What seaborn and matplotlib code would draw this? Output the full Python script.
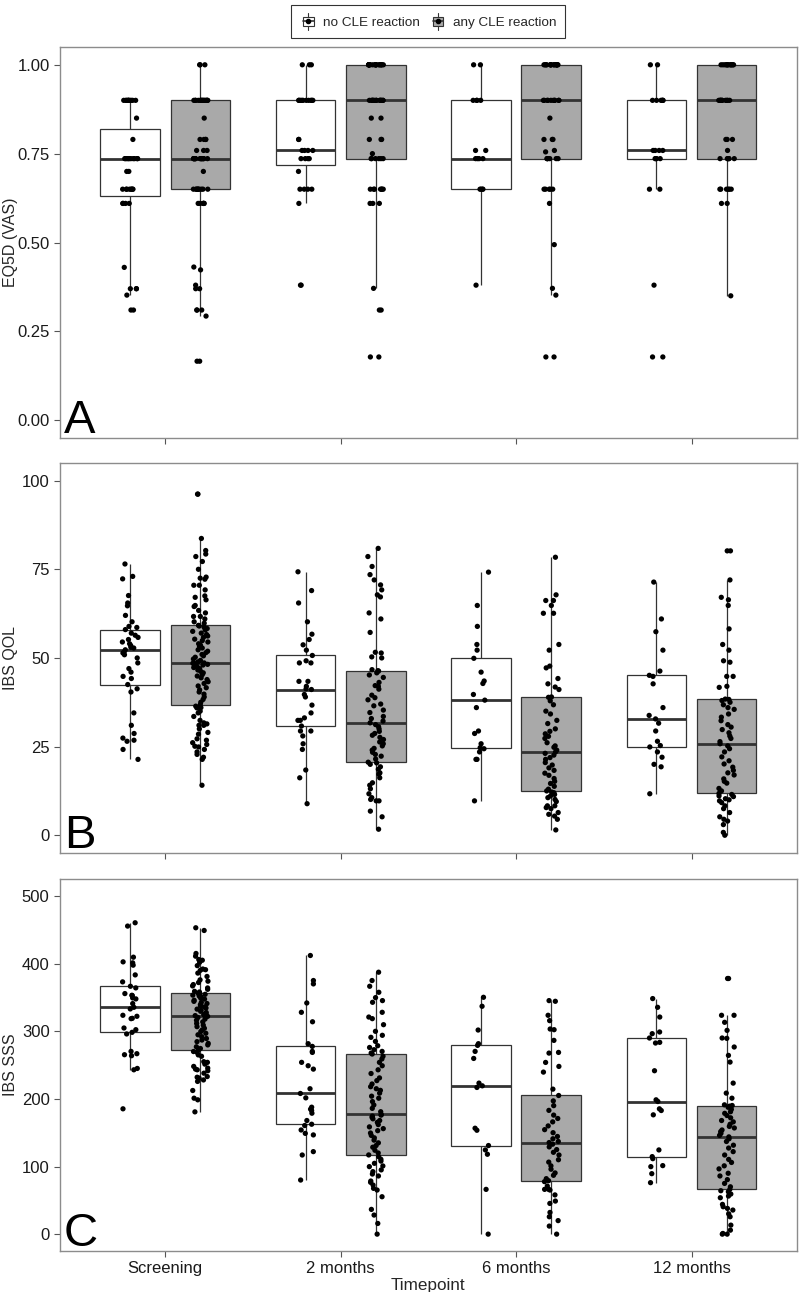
import numpy as np
import pandas as pd
import seaborn as sns
import matplotlib.pyplot as plt
from matplotlib.patches import Rectangle, Patch
from matplotlib.lines import Line2D
from matplotlib.legend_handler import HandlerBase

np.random.seed(3)

timepoints = ['Screening', '2 months', '6 months', '12 months']
groups = ['no CLE reaction', 'any CLE reaction']

# ---- EQ5D (VAS) values ----
eq5d_scr_no = [0.31, 0.31, 0.352, 0.37, 0.37, 0.37, 0.43, 0.61, 0.61, 0.61, 0.61,
               0.65, 0.65, 0.65, 0.65, 0.65, 0.65, 0.65, 0.65, 0.70, 0.70,
               0.736, 0.736, 0.736, 0.736, 0.736, 0.736, 0.736, 0.736, 0.736, 0.736,
               0.79, 0.85, 0.90, 0.90, 0.90, 0.90, 0.90, 0.90, 0.90, 0.90, 0.90, 0.90]
eq5d_scr_any = [0.166, 0.166, 0.293, 0.31, 0.31, 0.31, 0.37, 0.37, 0.38, 0.423, 0.431,
                0.61, 0.61, 0.61, 0.61, 0.61, 0.61,
                0.65, 0.65, 0.65, 0.65, 0.65, 0.65, 0.65, 0.65, 0.65, 0.65, 0.70,
                0.736, 0.736, 0.736, 0.736, 0.736, 0.736, 0.736, 0.736, 0.736, 0.736,
                0.736, 0.736, 0.736, 0.736, 0.736, 0.759, 0.759, 0.759,
                0.79, 0.79, 0.79, 0.79, 0.85,
                0.90, 0.90, 0.90, 0.90, 0.90, 0.90, 0.90, 0.90, 0.90, 0.90, 0.90, 0.90,
                0.90, 0.90, 0.90, 1.00, 1.00, 1.00]
eq5d_2m_no = [0.38, 0.38, 0.61, 0.65, 0.65, 0.65, 0.65, 0.70, 0.736, 0.736, 0.736, 0.736,
              0.759, 0.759, 0.759, 0.759, 0.79, 0.79,
              0.90, 0.90, 0.90, 0.90, 0.90, 0.90, 0.90, 0.90, 0.90, 0.90, 1.00, 1.00, 1.00]
eq5d_2m_any = [0.178, 0.178, 0.31, 0.31, 0.371, 0.61, 0.61, 0.61,
               0.65, 0.65, 0.65, 0.65, 0.65, 0.65, 0.65,
               0.736, 0.736, 0.736, 0.736, 0.736, 0.736, 0.75, 0.79, 0.79, 0.79, 0.85, 0.85,
               0.90, 0.90, 0.90, 0.90, 0.90, 0.90, 0.90, 0.90, 0.90, 0.90, 0.90, 0.90, 0.90, 0.90,
               1.00, 1.00, 1.00, 1.00, 1.00, 1.00, 1.00, 1.00, 1.00, 1.00,
               1.00, 1.00, 1.00, 1.00, 1.00, 1.00, 1.00, 1.00, 1.00, 1.00]
eq5d_6m_no = [0.38, 0.65, 0.65, 0.65, 0.65, 0.736, 0.736, 0.736, 0.736, 0.759, 0.759,
              0.90, 0.90, 0.90, 0.90, 1.00, 1.00]
eq5d_6m_any = [0.178, 0.178, 0.352, 0.371, 0.494, 0.61, 0.65, 0.65, 0.65, 0.65, 0.65,
               0.736, 0.736, 0.736, 0.736, 0.736, 0.736, 0.755, 0.759, 0.79, 0.79, 0.79, 0.85,
               0.90, 0.90, 0.90, 0.90, 0.90, 0.90, 0.90, 0.90, 0.90, 0.90,
               1.00, 1.00, 1.00, 1.00, 1.00, 1.00, 1.00, 1.00,
               1.00, 1.00, 1.00, 1.00, 1.00, 1.00, 1.00, 1.00]
eq5d_12m_no = [0.178, 0.178, 0.38, 0.65, 0.65, 0.736, 0.736, 0.736, 0.736,
               0.759, 0.759, 0.759, 0.759, 0.90, 0.90, 0.90, 0.90, 0.90, 0.90, 1.00, 1.00]
eq5d_12m_any = [0.35, 0.61, 0.61, 0.65, 0.65, 0.65, 0.65, 0.65, 0.65,
                0.736, 0.736, 0.736, 0.736, 0.736, 0.736, 0.759, 0.79, 0.79, 0.79,
                0.90, 0.90, 0.90, 0.90, 0.90, 0.90, 0.90, 0.90, 0.90, 0.90,
                1.00, 1.00, 1.00, 1.00, 1.00, 1.00, 1.00, 1.00, 1.00, 1.00, 1.00, 1.00]

# ---- IBS QOL values ----
qol_scr_no = [21.4, 24.2, 26.5, 26.8, 27.4, 28.7, 31.0, 34.5, 40.4, 41.3, 42.5,
              44.2, 44.8, 46.0, 47.0, 48.6, 50.0, 50.9, 51.4, 51.7, 52.3,
              52.8, 53.0, 53.5, 54.0, 54.5, 55.2, 55.8, 56.4, 57.0, 58.0,
              58.6, 58.9, 60.2, 62.0, 64.7, 65.5, 67.6, 72.3, 73.0, 76.5]
qol_scr_any = [14.1, 21.4, 22.0, 22.8, 23.5, 24.2, 24.9, 25.1, 25.6, 26.1, 26.8, 27.2, 28.5,
               29.0, 30.0, 31.0, 31.0, 31.4, 31.7, 32.4, 33.5, 34.5, 35.0, 35.9, 36.0, 36.4,
               36.8,
               37.5, 38.3, 39.0, 39.8, 40.4, 41.0, 41.6, 42.1, 42.8, 43.3, 43.9, 44.4, 44.9,
               45.3, 45.8, 46.2, 46.6, 47.0, 47.3, 47.6, 47.9, 48.0, 48.2, 48.4, 48.5,
               48.6,
               48.9, 49.3, 49.7, 50.2, 50.6, 51.0, 51.5, 51.9, 52.3, 52.8, 53.2, 53.6, 54.0,
               54.5, 54.9, 55.3, 55.8, 56.2, 56.6, 57.0, 57.5, 57.9, 58.3, 58.7, 59.0,
               59.2,
               59.8, 60.2, 61.0, 61.7, 61.7, 62.7, 63.4, 64.5, 64.8, 66.4, 67.1, 67.5, 69.2,
               70.5, 70.5, 72.2, 72.5, 72.8, 75.0, 77.2, 78.6, 79.3, 80.3, 83.7, 96.2, 96.2]
qol_2m_no = [8.9, 16.2, 18.4, 24.2, 25.8, 28.0, 29.4, 29.4, 30.8,
             32.4, 32.4, 33.1, 34.5, 36.7, 39.0, 39.7, 41.1,
             41.3, 42.0, 43.4, 43.4, 48.6, 48.6, 49.2, 50.7,
             52.2, 53.7, 55.2, 56.7, 60.2, 65.5, 69.0, 74.3]
qol_2m_any = [1.7, 5.2, 6.8, 9.7, 9.7, 10.1, 10.6, 11.7, 13.1, 14.1, 14.8, 16.2, 17.2, 17.6,
              18.6, 19.3, 20.0, 20.4, 20.6,
              21.5, 22.3, 22.8, 23.4, 24.0, 24.5, 25.2, 25.8, 26.3, 27.0, 27.6, 28.2, 28.7,
              29.3, 30.0, 30.6, 31.2, 31.7,
              32.2, 32.9, 33.5, 34.6, 35.3, 36.5, 37.0, 38.2, 38.8, 39.5, 41.2, 42.0, 42.2,
              43.1, 44.5, 45.2, 45.8, 46.3,
              46.4, 46.7, 50.0, 50.3, 51.4, 51.6, 57.2, 61.0, 62.7, 67.2, 67.8, 69.2, 70.6,
              72.0, 73.5, 75.8, 78.6, 80.9]
qol_6m_no = [9.7, 21.4, 21.4, 23.5, 24.4, 24.7, 25.8, 28.7, 29.4, 36.0, 38.1,
             39.7, 42.8, 43.5, 46.0, 49.9, 52.2, 53.8, 58.9, 64.8, 74.2]
qol_6m_any = [1.5, 4.5, 5.4, 5.9, 6.4, 7.5, 7.8, 8.3, 8.3, 9.5, 10.1, 10.6, 11.1, 11.5, 12.0,
              12.2, 12.5,
              13.0, 13.8, 14.6, 15.2, 16.0, 16.9, 17.5, 18.3, 19.0, 19.8, 20.5, 21.4, 21.9,
              22.6, 23.1, 23.5,
              24.0, 24.8, 25.2, 26.1, 27.3, 27.9, 28.6, 29.3, 30.0, 31.5, 32.4, 34.2, 35.0,
              36.8, 37.9, 38.9,
              39.0, 41.1, 41.8, 42.7, 44.2, 47.2, 47.7, 52.2, 53.8, 62.6, 62.6, 64.8, 66.2,
              66.2, 67.8, 78.4]
qol_12m_no = [11.7, 19.3, 20.0, 22.0, 23.5, 24.9, 25.3, 26.5, 29.4, 31.6, 32.8,
              33.8, 36.0, 42.7, 44.8, 45.1, 46.3, 52.2, 57.4, 61.0, 71.4]
qol_12m_any = [0.0, 0.8, 3.0, 4.0, 4.5, 5.2, 6.4, 7.5, 8.3, 9.2, 9.7, 10.0, 10.3, 10.9, 11.1,
               11.5, 11.8,
               12.5, 13.2, 14.7, 15.2, 15.9, 17.0, 17.6, 18.3, 19.2, 20.1, 21.0, 22.1, 23.5,
               24.4, 25.2, 25.8,
               26.4, 27.3, 28.0, 28.9, 29.8, 30.5, 31.2, 32.3, 33.3, 34.2, 35.5, 36.0, 36.8,
               37.5, 38.0, 38.3,
               38.4, 41.7, 42.0, 44.8, 44.8, 48.8, 49.2, 52.2, 53.8, 58.2, 64.8, 66.4, 67.1,
               72.0, 80.2, 80.2]

# ---- IBS SSS values ----
sss_scr_no = [185.3, 243.0, 245.0, 263.8, 265.3, 266.8, 270.2, 296.0, 298.4,
              302.3, 304.8, 318.6, 319.1, 322.1, 323.6, 333.0, 335.4,
              340.9, 347.8, 349.3, 352.7, 353.2, 355.7, 364.1, 366.5,
              373.0, 383.3, 397.7, 401.1, 402.6, 409.5, 455.5, 460.4]
sss_scr_any = [180.8, 198.6, 201.0, 212.4, 225.8, 228.0, 230.7, 232.0, 233.0, 238.0, 241.6,
               243.0, 244.0, 245.5, 248.0, 251.4, 254.0, 255.0, 263.0, 265.0, 268.7, 270.0,
               272.2,
               274.5, 277.0, 279.8, 282.0, 284.6, 287.0, 289.3, 292.0, 294.8, 297.0, 299.5,
               302.0, 304.4, 306.8, 309.0, 311.5, 313.8, 316.2, 318.0, 320.3, 322.0,
               323.1,
               324.5, 326.2, 327.8, 329.5, 331.0, 332.7, 334.4, 336.0, 337.5, 339.3, 341.0,
               342.6, 344.2, 345.8, 347.5, 349.0, 350.5, 352.0, 353.4, 354.6, 355.5,
               356.2,
               358.0, 359.0, 362.0, 364.0, 367.0, 369.0, 372.0, 374.0, 376.0, 381.0, 386.0,
               390.0, 391.0, 392.0, 397.0, 402.0, 405.0, 406.0, 411.0, 415.0, 449.0, 453.0]
sss_2m_no = [80.0, 117.0, 122.0, 146.7, 149.0, 154.0, 160.6, 162.5,
             168.0, 178.8, 182.8, 184.8, 187.7, 201.5, 208.0,
             215.0, 244.0, 249.0, 254.0, 268.7, 270.2, 277.6,
             281.6, 314.0, 328.0, 341.8, 370.0, 375.0, 412.0]
sss_2m_any = [0.0, 15.8, 28.2, 36.6, 55.3, 65.2, 67.7, 72.6, 76.6, 78.5, 86.0, 88.9, 92.4,
              95.0, 99.8, 100.8, 104.7, 108.0, 110.7, 114.6, 117.1,
              120.0, 124.0, 128.5, 131.0, 135.0, 139.0, 142.4, 146.0, 149.5, 153.0, 156.0,
              158.6, 162.0, 165.3, 168.0, 170.5, 172.8, 174.5, 176.0, 176.9,
              181.0, 186.0, 191.0, 196.0, 201.0, 204.0, 208.5, 212.6, 215.0, 218.0, 222.0,
              227.0, 231.0, 237.5, 243.0, 249.0, 254.0, 259.0, 263.0, 266.3,
              267.7, 270.2, 272.7, 276.0, 278.6, 285.0, 291.0, 294.0, 299.9, 309.7, 318.6,
              321.0, 328.0, 342.8, 345.3, 349.7, 357.6, 366.5, 375.0, 387.3]
sss_6m_no = [0.0, 66.2, 118.1, 124.5, 131.0, 153.6, 156.6, 216.9, 219.3,
             223.3, 259.8, 270.2, 279.1, 281.6, 301.8, 336.9, 350.2]
sss_6m_any = [0.0, 11.9, 20.0, 25.7, 32.1, 45.4, 48.9, 58.0, 65.2, 66.2, 66.2, 71.1, 77.6,
              79.0,
              82.0, 87.0, 90.5, 96.0, 101.0, 106.5, 110.0, 117.0, 121.0, 125.0, 129.0, 133.0,
              135.4,
              137.0, 141.0, 144.4, 150.0, 154.5, 160.0, 166.0, 171.0, 176.0, 183.0, 190.0,
              197.0, 205.0,
              214.4, 239.6, 248.0, 253.9, 267.7, 268.7, 286.5, 302.3, 303.3, 315.7, 323.6,
              344.3, 345.3]
sss_12m_no = [76.1, 89.4, 99.8, 101.3, 111.6, 114.6, 124.5, 176.4, 182.8, 185.3, 196.1,
              198.6, 241.6, 282.6, 283.6, 290.0, 296.4, 298.9, 321.0, 335.4, 348.3]
sss_12m_any = [0.0, 0.0, 1.0, 5.9, 13.3, 25.7, 30.0, 35.6, 38.0, 40.5, 44.0, 53.8, 56.3, 59.3,
               62.7, 64.2, 66.2,
               70.0, 75.0, 80.6, 86.0, 90.0, 96.5, 101.0, 106.0, 110.5, 117.0, 122.0, 127.3,
               131.5, 137.0, 141.0, 143.8,
               146.0, 149.0, 151.6, 154.0, 157.0, 159.3, 162.5, 166.0, 168.0, 172.0, 175.4,
               178.6, 181.0, 184.5, 187.6, 189.2,
               190.2, 191.2, 201.0, 208.5, 223.3, 254.4, 264.3, 276.7, 289.5, 290.0, 301.3,
               313.2, 323.6, 323.6, 378.0, 378.0]


def long_frame(series):
    # series: list of (timepoint, group, values) -> long data frame
    rows = [(tp, grp, v) for tp, grp, vals in series for v in vals]
    return pd.DataFrame(rows, columns=['Timepoint', 'Group', 'value'])


df_eq5d = long_frame([
    ('Screening', groups[0], eq5d_scr_no), ('Screening', groups[1], eq5d_scr_any),
    ('2 months', groups[0], eq5d_2m_no), ('2 months', groups[1], eq5d_2m_any),
    ('6 months', groups[0], eq5d_6m_no), ('6 months', groups[1], eq5d_6m_any),
    ('12 months', groups[0], eq5d_12m_no), ('12 months', groups[1], eq5d_12m_any)])
df_qol = long_frame([
    ('Screening', groups[0], qol_scr_no), ('Screening', groups[1], qol_scr_any),
    ('2 months', groups[0], qol_2m_no), ('2 months', groups[1], qol_2m_any),
    ('6 months', groups[0], qol_6m_no), ('6 months', groups[1], qol_6m_any),
    ('12 months', groups[0], qol_12m_no), ('12 months', groups[1], qol_12m_any)])
df_sss = long_frame([
    ('Screening', groups[0], sss_scr_no), ('Screening', groups[1], sss_scr_any),
    ('2 months', groups[0], sss_2m_no), ('2 months', groups[1], sss_2m_any),
    ('6 months', groups[0], sss_6m_no), ('6 months', groups[1], sss_6m_any),
    ('12 months', groups[0], sss_12m_no), ('12 months', groups[1], sss_12m_any)])

box_colors = {'no CLE reaction': 'white', 'any CLE reaction': '#a9a9a9'}
line_col = '#333333'

sns.set_style('ticks')
plt.rcParams['font.family'] = ['Liberation Sans', 'DejaVu Sans']

fig = plt.figure(figsize=(8, 12.92), dpi=100)
ax_a = fig.add_axes([0.075, 0.661, 0.921, 0.3026])
ax_b = fig.add_axes([0.075, 0.3398, 0.921, 0.3019])
ax_c = fig.add_axes([0.075, 0.0317, 0.921, 0.2879])

panels = [
    (ax_a, df_eq5d, 'EQ5D (VAS)', 'A', (-0.05, 1.05), [0, 0.25, 0.5, 0.75, 1.0],
     ['0.00', '0.25', '0.50', '0.75', '1.00']),
    (ax_b, df_qol, 'IBS QOL', 'B', (-5, 105), [0, 25, 50, 75, 100],
     ['0', '25', '50', '75', '100']),
    (ax_c, df_sss, 'IBS SSS', 'C', (-25, 525), [0, 100, 200, 300, 400, 500],
     ['0', '100', '200', '300', '400', '500']),
]

for ax, df, ylabel, letter, ylim, yticks, ylabels in panels:
    sns.boxplot(data=df, x='Timepoint', y='value', hue='Group', order=timepoints,
                hue_order=groups, palette=box_colors, saturation=1, width=0.8, gap=0.15,
                showfliers=False, showcaps=False, linecolor=line_col, linewidth=0.9,
                medianprops={'linewidth': 2.0, 'color': line_col}, legend=False, ax=ax)
    sns.stripplot(data=df, x='Timepoint', y='value', hue='Group', order=timepoints,
                  hue_order=groups, palette={g: 'black' for g in groups}, dodge=True,
                  jitter=0.09, size=3.8, linewidth=0, legend=False, ax=ax)
    ax.set_xlim(-0.6, 3.6)
    ax.set_ylim(*ylim)
    ax.set_yticks(yticks)
    ax.set_yticklabels(ylabels)
    ax.set_xlabel('')
    ax.set_ylabel(ylabel, fontsize=11.5)
    ax.yaxis.set_label_coords(-0.057, 0.5)
    for s in ax.spines.values():
        s.set_visible(True)
        s.set_color('#8c8c8c')
        s.set_linewidth(1)
    ax.tick_params(axis='both', direction='out', length=4, width=0.8, color='#555555',
                   labelsize=12, labelcolor='#1a1a1a')
    ax.text(0.005, 0.013, letter, transform=ax.transAxes, fontsize=34,
            ha='left', va='baseline', color='black')

ax_a.tick_params(axis='x', labelbottom=False)
ax_b.tick_params(axis='x', labelbottom=False)
ax_c.set_xlabel('Timepoint', fontsize=12.3, labelpad=1)


class BoxKey(HandlerBase):
    # small boxplot glyph like the ggplot legend key
    def create_artists(self, legend, orig_handle, xdescent, ydescent, width, height,
                       fontsize, trans):
        x0, y0 = -xdescent, -ydescent
        fc = orig_handle.get_facecolor()
        whisk = Line2D([x0 + width / 2] * 2, [y0 - 0.1 * height, y0 + 1.1 * height],
                       color=line_col, lw=0.8, transform=trans)
        box = Rectangle((x0 + 0.2 * width, y0 + 0.2 * height), 0.6 * width, 0.6 * height,
                        facecolor=fc, edgecolor=line_col, lw=0.8, transform=trans)
        mid = Line2D([x0 + 0.2 * width, x0 + 0.8 * width], [y0 + height / 2] * 2,
                     color=line_col, lw=1.2, transform=trans)
        dot = Line2D([x0 + width / 2], [y0 + height / 2], marker='o', ms=3,
                     color='black', lw=0, transform=trans)
        return [whisk, box, mid, dot]


handles = [Patch(facecolor=box_colors[g], label=g) for g in groups]
leg = fig.legend(handles=handles, loc='upper center', bbox_to_anchor=(0.535, 0.998),
                 ncol=2, frameon=True, fancybox=False, edgecolor='black', fontsize=9.7,
                 handler_map={Patch: BoxKey()}, handlelength=1.3, handleheight=1.3,
                 handletextpad=0.45, columnspacing=0.7, borderpad=0.65, borderaxespad=0.2)
leg.get_frame().set_linewidth(0.8)

fig.savefig('out.png', dpi=100)
